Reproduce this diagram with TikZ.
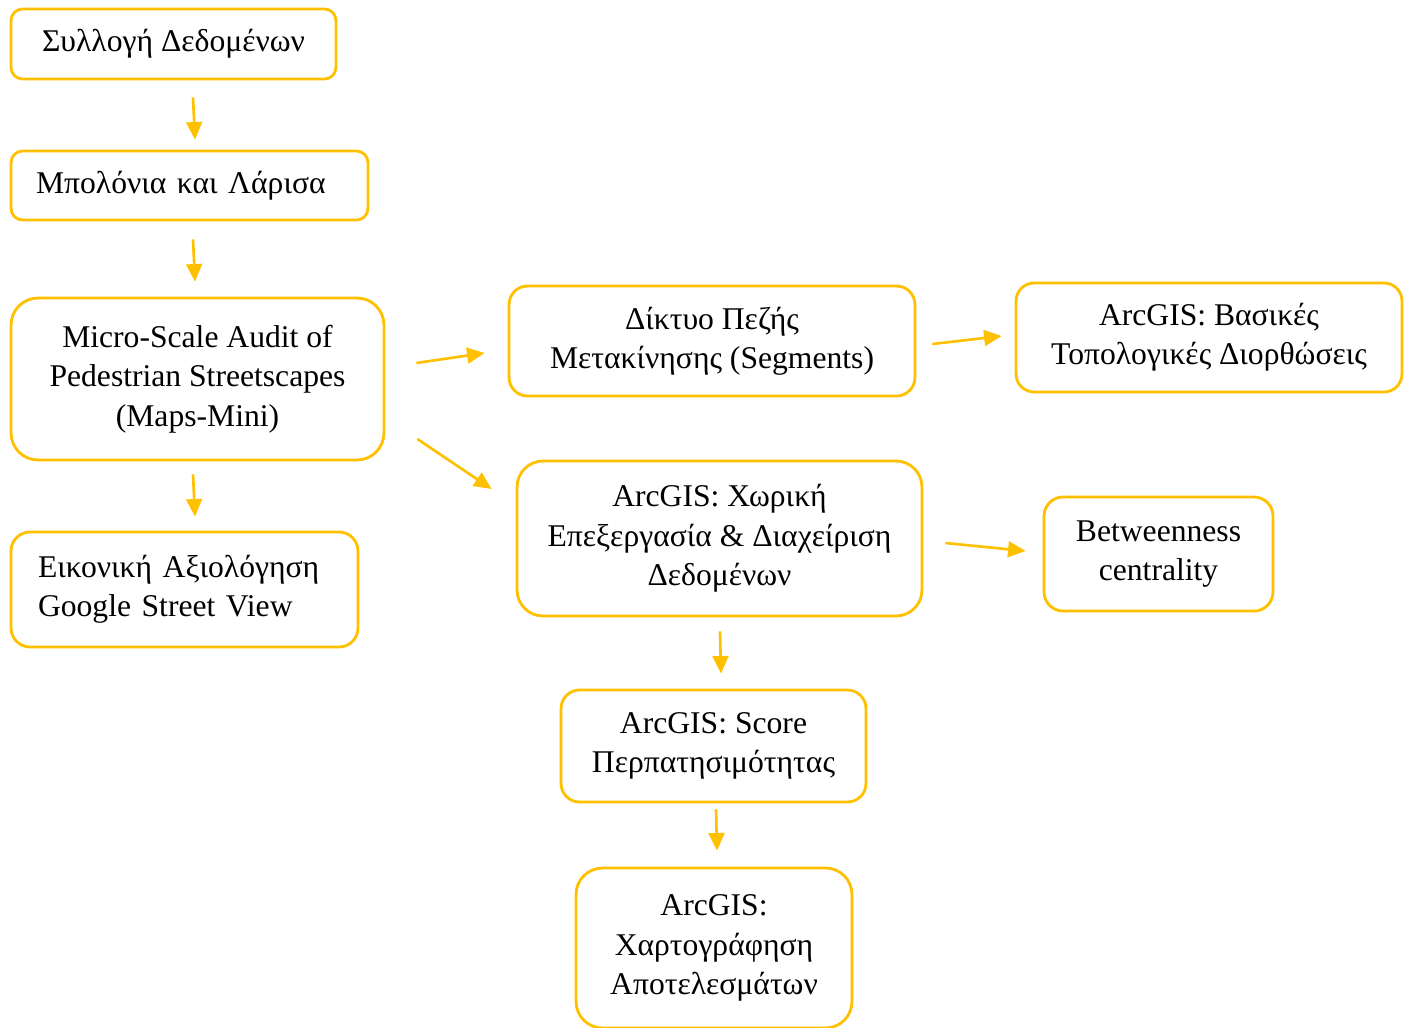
\documentclass[tikz,border=0pt]{standalone}
\usepackage{fontspec}
\setmainfont{Liberation Serif}
\usetikzlibrary{arrows.meta,calc}
\definecolor{boxgold}{RGB}{255,192,0}
\begin{document}
\begin{tikzpicture}[x=0.02cm, y=-0.02cm,
stepbox/.style={draw=boxgold, line width=1.6pt, rounded corners=#1, inner sep=0pt, align=center, font=\fontsize{18}{22.4}\selectfont},
stepbox/.default=0.3cm,
arr/.style={draw=boxgold, line width=1.5pt, -{Triangle[length=10pt, width=9pt]}},
]
    \useasboundingbox (0,0) rectangle (1405,1027);
    % left column
    \node[stepbox=0.23cm, minimum width=6.5cm, minimum height=1.4cm](coll) at (173.5,44) {Συλλογή Δεδομένων} ;
    \node[stepbox=0.23cm, minimum width=7.14cm, minimum height=1.38cm, text width=6.14cm, align=left](bol) at (189.5,185.5) {Μπολόνια και Λάρισα} ;
    \node[stepbox=0.54cm, minimum width=7.46cm, minimum height=3.24cm](micro) at (197.5,379) {Micro-Scale Audit of\\Pedestrian Streetscapes\\(Maps-Mini)} ;
    \node[stepbox=0.38cm, minimum width=6.94cm, minimum height=2.3cm, text width=5.86cm, align=left](eik) at (184.5,589.5) {Εικονική Αξιολόγηση\\Google Street View} ;
    % middle column
    \node[stepbox=0.37cm, minimum width=8.12cm, minimum height=2.2cm](dik) at (712,341) {Δίκτυο Πεζής\\Μετακίνησης (Segments)} ;
    \node[stepbox=0.52cm, minimum width=8.1cm, minimum height=3.1cm](arc) at (719.5,538.5) {ArcGIS: Χωρική\\Επεξεργασία \& Διαχείριση\\Δεδομένων} ;
    \node[stepbox=0.37cm, minimum width=6.1cm, minimum height=2.24cm](score) at (713.5,746) {ArcGIS: Score\\Περπατησιμότητας} ;
    \node[stepbox=0.53cm, minimum width=5.52cm, minimum height=3.2cm](map) at (714,948) {ArcGIS:\\Χαρτογράφηση\\Αποτελεσμάτων} ;
    % right column
    \node[stepbox=0.36cm, minimum width=7.72cm, minimum height=2.18cm](bas) at (1209,337.5) {ArcGIS: Βασικές\\Τοπολογικές Διορθώσεις} ;
    \node[stepbox=0.38cm, minimum width=4.58cm, minimum height=2.28cm](betw) at (1158.5,554) {Betweenness\\centrality} ;

    \draw[arr] ($(coll.south)+(19.5,17)$) -- ($(bol.north)+(5.5,-10)$) ;
    \draw[arr] ($(bol.south)+(3.5,18)$) -- ($(micro.north)+(-2.5,-15)$) ;
    \draw[arr] ($(micro.south)+(-4.5,13)$) -- ($(eik.north)+(10.5,-14)$) ;
    \draw[arr] ($(micro.east)+(31,-16)$) -- ($(dik.west)+(-23,12)$) ;
    \draw[arr] ($(micro.east)+(32,60)$) -- ($(arc.west)+(-24,-49.5)$) ;
    \draw[arr] ($(dik.east)+(16,3)$) -- ($(bas.west)+(-13,-1.5)$) ;
    \draw[arr] ($(arc.east)+(22,4.5)$) -- ($(betw.west)+(-17,-3)$) ;
    \draw[arr] ($(arc.south)+(0.5,14)$) -- ($(score.north)+(7.5,-15)$) ;
    \draw[arr] ($(score.south)+(2.5,6)$) -- ($(map.north)+(3,-16)$) ;
\end{tikzpicture}
\end{document}
